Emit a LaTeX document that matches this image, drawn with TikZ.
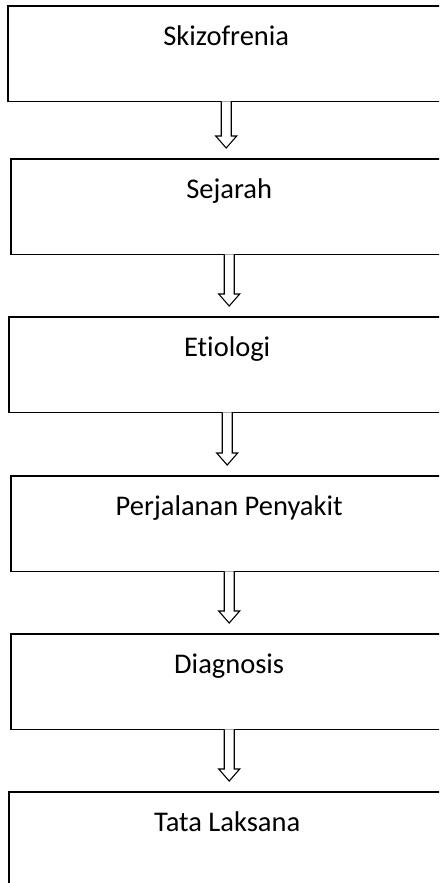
\documentclass[tikz,border=0pt]{standalone}
\usepackage{fontspec}
\setmainfont[Ligatures=NoCommon]{Carlito}
\usepackage{tikz}
\usetikzlibrary{calc}

\begin{document}
\begin{tikzpicture}[x=1pt, y=1pt,
    box/.style={anchor=north west, minimum width=436pt,
      inner xsep=0pt, inner ysep=0pt, text height=39pt, text depth=56pt,
      font=\fontsize{28.5}{34}\selectfont},
    frame/.style={draw=black, line width=1.6pt, line join=miter},
    hollow/.style={draw=black, line width=1.1pt, fill=white, line join=miter}]
\useasboundingbox (0,0) rectangle (439,-883);
\clip (0,0) rectangle (439,-883);
% kotak alur
\node[box] (skizo) at (8,-6) {Skizofrenia};
\node[box] (sejarah) at (11,-159) {Sejarah};
\node[box] (etiologi) at (9,-317) {Etiologi};
\node[box] (perjalanan) at (11,-476) {Perjalanan Penyakit};
\node[box] (diagnosis) at (11,-634) {Diagnosis};
\node[box] (tatalaksana) at (9,-792) {Tata Laksana};
% sisi kanan terpotong
\foreach \n in {skizo, sejarah, etiologi, perjalanan, diagnosis, tatalaksana}
  \draw[frame] ($(\n.north east)+(4,0)$) -- (\n.north west) -- (\n.south west) -- ($(\n.south east)+(4,0)$);
% panah
\foreach \a/\b in {skizo/sejarah, sejarah/etiologi, etiologi/perjalanan, perjalanan/diagnosis, diagnosis/tatalaksana}
  \draw[hollow] ($(\a.south)+(-5,0)$) -- ($(\b.north -| \a.south)+(-5,23)$) -- ++(-5.5,0)
    -- ($(\b.north -| \a.south)+(0,11)$) -- ++(10.5,12) -- ++(-5.5,0) -- ($(\a.south)+(5,0)$);
\end{tikzpicture}
\end{document}
